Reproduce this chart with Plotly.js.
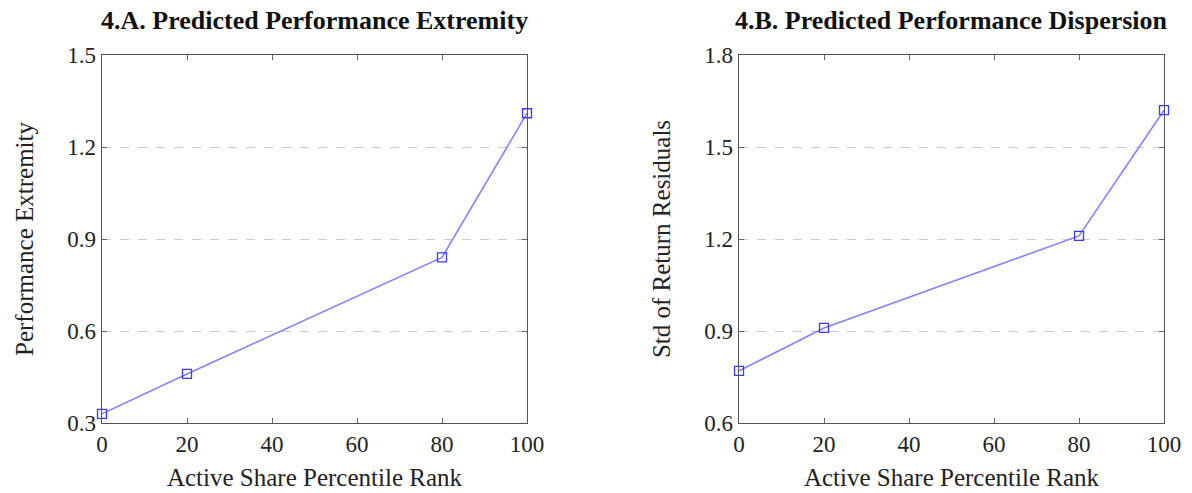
<!DOCTYPE html>
<html>
<head>
<meta charset="utf-8">
<script src="https://cdn.plot.ly/plotly-3.0.1.min.js"></script>
<style>html,body{margin:0;padding:0;background:#fff;}#chart{width:1192px;height:493px;}</style>
</head>
<body>
<div id="chart"></div>
<script>
const xRank = [0, 20, 80, 100];
const extremity = [0.33, 0.46, 0.84, 1.31];
const dispersion = [0.77, 0.91, 1.21, 1.62];
const xTicks = [0, 20, 40, 60, 80, 100];
const yTicksA = [0.3, 0.6, 0.9, 1.2, 1.5];
const yTicksB = [0.6, 0.9, 1.2, 1.5, 1.8];
const titleA = '4.A. Predicted Performance Extremity';
const titleB = '4.B. Predicted Performance Dispersion';
const xTitle = 'Active Share Percentile Rank';
const yTitleA = 'Performance Extremity';
const yTitleB = 'Std of Return Residuals';

const W = 1192, H = 493;
const FONT = 'Liberation Serif, Times New Roman, serif';
const lineStyle = {color: 'rgba(110,110,255,0.85)', width: 1.6};
const markerStyle = {symbol: 'square-open', size: 9, color: '#3a3aff', line: {width: 1.3, color: '#3a3aff'}};

const traces = [
  {x: xRank, y: extremity, xaxis: 'x', yaxis: 'y', mode: 'lines+markers', line: lineStyle, marker: markerStyle, showlegend: false, cliponaxis: false},
  {x: xRank, y: dispersion, xaxis: 'x2', yaxis: 'y2', mode: 'lines+markers', line: lineStyle, marker: markerStyle, showlegend: false, cliponaxis: false}
];

function xa(domain) {
  return {
    domain: domain, range: [0, 100], tickvals: xTicks, ticktext: xTicks.map(String),
    ticks: 'inside', ticklen: 5, tickwidth: 1, tickcolor: '#666',
    showline: true, linecolor: '#555', linewidth: 1.3, mirror: 'ticks',
    showgrid: false, zeroline: false,
    tickfont: {family: FONT, size: 23, color: '#222'},
    title: {text: xTitle, font: {family: FONT, size: 25, color: '#222'}, standoff: 12},
    automargin: false, fixedrange: true
  };
}
function ya(range, ticks, title, anchor) {
  return {
    anchor: anchor,
    domain: [70 / H, 438 / H], range: range, tickvals: ticks, ticktext: ticks.map(v => v.toFixed(1)),
    ticks: 'inside', ticklen: 5, tickwidth: 1, tickcolor: '#666',
    showline: true, linecolor: '#555', linewidth: 1.3, mirror: 'ticks',
    showgrid: true, gridcolor: '#cccccc', gridwidth: 1, griddash: 'dash',
    zeroline: false,
    tickfont: {family: FONT, size: 23, color: '#222'},
    title: {text: title, font: {family: FONT, size: 25, color: '#222'}, standoff: 26},
    automargin: false, fixedrange: true
  };
}

const layout = {
  width: W, height: H,
  margin: {l: 0, r: 0, t: 0, b: 0},
  paper_bgcolor: '#fff', plot_bgcolor: '#fff',
  xaxis: Object.assign(xa([102 / W, 527 / W]), {anchor: 'y'}),
  yaxis: ya([0.3, 1.5], yTicksA, yTitleA, 'x'),
  xaxis2: Object.assign(xa([739 / W, 1164 / W]), {anchor: 'y2'}),
  yaxis2: ya([0.6, 1.8], yTicksB, yTitleB, 'x2'),
  annotations: [
    {text: '<b>' + titleA + '</b>', xref: 'paper', yref: 'paper', x: (102 + 527) / 2 / W, y: 1 - 20 / H, xanchor: 'center', yanchor: 'middle', showarrow: false, font: {family: FONT, size: 26, color: '#111'}},
    {text: '<b>' + titleB + '</b>', xref: 'paper', yref: 'paper', x: (739 + 1164) / 2 / W, y: 1 - 20 / H, xanchor: 'center', yanchor: 'middle', showarrow: false, font: {family: FONT, size: 26, color: '#111'}}
  ]
};

Plotly.newPlot('chart', traces, layout, {displayModeBar: false, staticPlot: true});
</script>
</body>
</html>
